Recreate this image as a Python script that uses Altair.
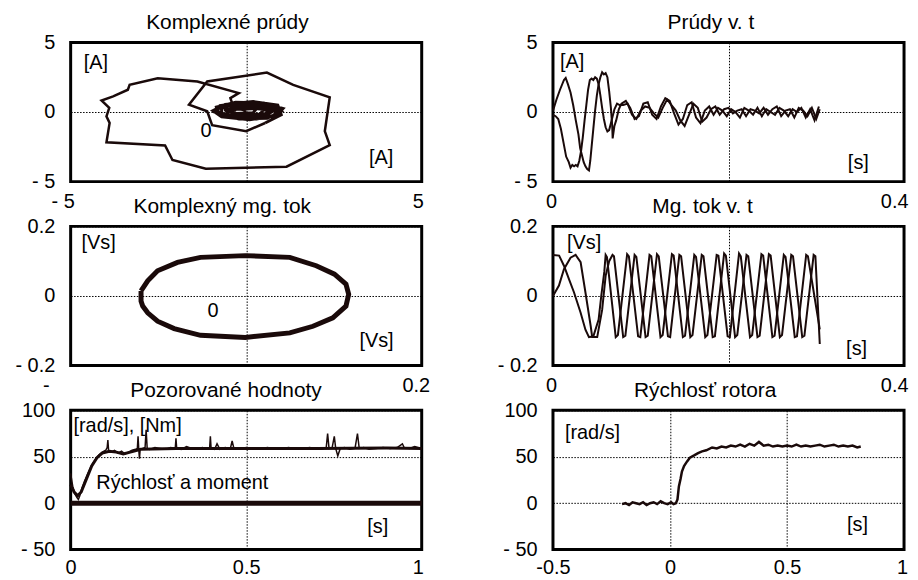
import altair as alt
import pandas as pd

INK = "#1a0a0a"
FONT = "Liberation Sans"

# ---------------- Panel 1: Komplexné prúdy (trajectory of current vector) -------------
CUR_OUTER = [(0.00, 0.00), (-0.40, 0.64), (-0.45, 1.00), (-0.21, 1.36), (-1.39, 2.19), (-2.52, 2.43),
             (-3.32, 1.95), (-3.37, 1.60), (-3.79, 1.12), (-4.12, 0.83), (-3.90, 0.30), (-3.98, -0.31),
             (-3.89, -0.79), (-3.98, -2.17), (-2.31, -2.40), (-2.10, -3.45), (-1.15, -4.07),
             (1.15, -3.93), (2.38, -2.38), (2.24, -1.38), (2.38, 1.05), (1.34, 1.95), (0.59, 2.83),
             (-1.11, 2.19), (-1.63, 0.52), (-1.11, 0.05), (-0.97, -0.95), (0.00, -1.38), (0.54, -0.79)]
CUR_BLOB = [(0.54, -0.79), (1.00, -0.20), (0.90, 0.50), (0.20, 0.75), (-0.60, 0.55), (-0.95, 0.10),
            (-0.70, -0.35), (0.10, -0.55), (0.85, -0.30), (1.05, 0.25), (0.50, 0.65), (-0.30, 0.70),
            (-0.85, 0.35), (-0.80, -0.15), (-0.20, -0.50), (0.60, -0.45), (1.00, 0.05), (0.70, 0.55),
            (-0.10, 0.68), (-0.75, 0.45), (-0.90, 0.00), (-0.45, -0.40), (0.30, -0.50), (0.95, -0.15),
            (0.85, 0.40), (0.10, 0.62), (-0.60, 0.50), (-0.85, 0.15), (-0.60, -0.30), (0.05, -0.45),
            (0.75, -0.30), (0.95, 0.15), (0.55, 0.55), (-0.20, 0.60), (-0.70, 0.30), (-0.70, -0.10),
            (-0.20, -0.35), (0.50, -0.30), (0.80, 0.10), (0.40, 0.45), (-0.30, 0.45), (-0.55, 0.10),
            (-0.20, -0.20), (0.40, -0.15), (0.50, 0.20), (0.00, 0.30), (-0.40, 0.15), (-0.30, -0.10),
            (0.20, -0.05), (0.30, 0.25), (-0.10, 0.20), (-0.60, 0.20), (-0.50, -0.20), (0.30, -0.30),
            (0.70, 0.00), (0.30, 0.35), (-0.40, 0.30)]

# ---------------- Panel 2: Prúdy v. t -------------
IA = [(0.000, 0.1), (0.004, 0.9), (0.008, 1.6), (0.0125, 2.3), (0.0145, 2.45), (0.017, 2.0), (0.020, 1.4),
      (0.023, 0.5), (0.026, -0.6), (0.029, -1.6), (0.031, -2.6), (0.033, -3.1), (0.035, -3.6),
      (0.037, -3.9), (0.039, -4.1), (0.041, -4.2), (0.0425, -3.5), (0.044, -2.5), (0.046, -1.2),
      (0.048, 0.1), (0.050, 1.2), (0.052, 2.0), (0.054, 2.5), (0.056, 2.85), (0.058, 2.7), (0.060, 2.8),
      (0.062, 2.5), (0.064, 1.5), (0.066, 0.3), (0.0675, -1.0), (0.068, -1.9), (0.070, -1.0),
      (0.072, -0.6), (0.075, 0.2), (0.078, 0.6),
      (0.083, 0.8), (0.088, 0.3), (0.093, -0.5), (0.098, -0.3), (0.103, 0.6), (0.108, 0.7), (0.113, -0.2),
      (0.118, -0.5), (0.123, 0.4), (0.128, 1.0), (0.133, 0.8), (0.138, -0.1), (0.143, -0.9), (0.148, -0.5),
      (0.153, 0.5), (0.158, 0.7), (0.163, -0.4), (0.168, -0.8), (0.173, 0.1), (0.178, 0.4), (0.183, -0.2),
      (0.188, 0.3), (0.193, 0.1), (0.198, -0.3), (0.203, 0.2), (0.208, 0.0), (0.213, -0.4), (0.218, 0.3),
      (0.223, 0.1), (0.228, -0.2), (0.233, 0.3), (0.238, -0.3), (0.243, 0.2), (0.248, 0.0), (0.253, -0.2),
      (0.258, 0.3), (0.263, 0.1), (0.268, -0.3), (0.273, 0.2), (0.278, 0.0), (0.283, 0.3), (0.288, -0.4),
      (0.293, 0.2), (0.298, -0.6), (0.303, 0.4)]
IB = [(0.000, -0.2), (0.003, -0.3), (0.006, -0.5), (0.009, -1.2), (0.012, -2.2), (0.015, -3.2),
      (0.018, -3.6), (0.020, -4.0), (0.022, -3.8), (0.024, -3.9), (0.026, -3.8), (0.028, -3.9),
      (0.030, -3.5), (0.032, -2.8), (0.034, -1.8), (0.036, -0.6), (0.038, 0.5), (0.040, 1.6),
      (0.042, 2.3), (0.044, 2.4), (0.046, 2.3), (0.048, 2.5), (0.050, 2.4), (0.052, 2.0), (0.054, 1.2),
      (0.056, 0.3), (0.058, -0.5), (0.060, -1.1), (0.062, -1.4), (0.064, -1.3), (0.066, -0.8),
      (0.068, -0.3), (0.070, 0.2), (0.073, 0.6), (0.076, 0.5),
      (0.080, 0.5), (0.085, 0.6), (0.090, -0.2), (0.095, -0.5), (0.100, 0.1), (0.105, 0.4), (0.110, 0.3),
      (0.115, -0.1), (0.120, -0.4), (0.125, 0.3), (0.130, 0.9), (0.135, 0.5), (0.140, 0.1), (0.145, -0.6),
      (0.150, -1.0), (0.155, -0.2), (0.160, 0.6), (0.165, 0.3), (0.170, -0.7), (0.175, -0.4), (0.180, 0.2),
      (0.185, 0.4), (0.190, -0.2), (0.195, 0.2), (0.200, 0.3), (0.205, -0.1), (0.210, 0.1), (0.215, 0.2),
      (0.220, -0.3), (0.225, 0.2), (0.230, 0.1), (0.235, -0.1), (0.240, 0.3), (0.245, -0.2), (0.250, 0.2),
      (0.255, 0.4), (0.260, -0.3), (0.265, 0.1), (0.270, 0.2), (0.275, -0.4), (0.280, 0.3), (0.285, 0.1),
      (0.290, -0.3), (0.295, 0.3), (0.300, -0.5), (0.304, 0.2)]

# ---------------- Panel 3: Komplexný mg. tok (flux trajectory) -------------
FLUX_PATH = [(-0.1198, 0.0145), (-0.1198, -0.0145), (-0.1179, -0.029), (-0.1122, -0.0483),
             (-0.1010, -0.0725), (-0.0821, -0.0937), (-0.0520, -0.1130), (-0.0011, -0.1190),
             (0.0497, -0.1060), (0.0761, -0.0870), (0.0987, -0.0628), (0.1137, -0.0290),
             (0.1168, 0.0048), (0.1137, 0.0338), (0.1006, 0.0628), (0.0798, 0.0870),
             (0.0497, 0.1110), (-0.0011, 0.1160), (-0.0520, 0.1110), (-0.0783, 0.0966),
             (-0.1010, 0.0725), (-0.1122, 0.0435), (-0.1198, 0.0145)]

# ---------------- Panel 4: Mg. tok v. t -------------
PSI_A = [(0.0, 0.118), (0.007, 0.116), (0.0125, 0.087), (0.018, 0.05), (0.024, 0.01), (0.0315, -0.048),
         (0.037, -0.097), (0.041, -0.118), (0.046, -0.116), (0.052, -0.068), (0.055, 0.0), (0.0585, 0.07),
         (0.0600, 0.118), (0.0615, 0.112), (0.0715, -0.118), (0.0740, -0.112), (0.0845, 0.120),
         (0.0865, 0.114), (0.0970, -0.116), (0.0995, -0.118), (0.1100, 0.118), (0.1120, 0.114),
         (0.1225, -0.118), (0.1250, -0.112), (0.1355, 0.120), (0.1375, 0.116), (0.1480, -0.118),
         (0.1505, -0.114), (0.1610, 0.118), (0.1630, 0.112), (0.1735, -0.118), (0.1760, -0.112),
         (0.1865, 0.118), (0.1885, 0.116), (0.1990, -0.116), (0.2015, -0.118), (0.2120, 0.122),
         (0.2140, 0.114), (0.2245, -0.118), (0.2270, -0.112), (0.2375, 0.120), (0.2395, 0.116),
         (0.2500, -0.118), (0.2525, -0.114), (0.2630, 0.118), (0.2650, 0.112), (0.2755, -0.118),
         (0.2780, -0.116), (0.2885, 0.118), (0.2905, 0.114), (0.3040, -0.096)]
PSI_B = [(0.0, 0.0), (0.0068, 0.03), (0.0125, 0.077), (0.020, 0.11), (0.0258, 0.118), (0.0315, 0.097),
         (0.037, 0.01), (0.043, -0.087), (0.0447, -0.118), (0.0504, -0.118), (0.056, -0.04), (0.060, 0.058),
         (0.064, 0.10), (0.0678, 0.118), (0.0695, 0.114), (0.0800, -0.118), (0.0825, -0.114),
         (0.0930, 0.118), (0.0950, 0.112), (0.1055, -0.118), (0.1080, -0.114), (0.1185, 0.120),
         (0.1205, 0.114), (0.1310, -0.116), (0.1335, -0.118), (0.1440, 0.118), (0.1460, 0.114),
         (0.1565, -0.118), (0.1590, -0.112), (0.1695, 0.118), (0.1715, 0.114), (0.1820, -0.118),
         (0.1845, -0.116), (0.1950, 0.122), (0.1970, 0.116), (0.2075, -0.118), (0.2100, -0.112),
         (0.2205, 0.118), (0.2225, 0.114), (0.2330, -0.118), (0.2355, -0.114), (0.2460, 0.120),
         (0.2480, 0.116), (0.2585, -0.118), (0.2610, -0.112), (0.2715, 0.118), (0.2735, 0.114),
         (0.2840, -0.118), (0.2865, -0.114), (0.2970, 0.118), (0.2990, 0.114), (0.3040, -0.138)]

# ---------------- Panel 5: Pozorované hodnoty -------------
SPEED_OBS = [(0.000, 32), (0.006, 18), (0.012, 10), (0.018, 6), (0.022, 4), (0.026, 8), (0.032, 16),
             (0.040, 24), (0.050, 33), (0.060, 41), (0.070, 47), (0.080, 52), (0.090, 55), (0.100, 57),
             (0.104, 60), (0.106, 68), (0.108, 57), (0.115, 55), (0.125, 57), (0.135, 54), (0.145, 56),
             (0.155, 53), (0.165, 55), (0.175, 57), (0.185, 58), (0.190, 59), (0.192, 72), (0.194, 58),
             (0.196, 48), (0.198, 58), (0.205, 59), (0.212, 60), (0.215, 79), (0.218, 59), (0.225, 58),
             (0.240, 60), (0.255, 59), (0.270, 58), (0.285, 60), (0.298, 59), (0.300, 70), (0.302, 59),
             (0.315, 58), (0.330, 61), (0.345, 59), (0.360, 58), (0.375, 60), (0.390, 59), (0.396, 60),
             (0.398, 72), (0.400, 59), (0.410, 58), (0.417, 64), (0.425, 58), (0.440, 60), (0.455, 59),
             (0.460, 67), (0.465, 59), (0.480, 58), (0.500, 60), (0.520, 59), (0.540, 58), (0.560, 60),
             (0.580, 59), (0.600, 58), (0.620, 60), (0.640, 59), (0.660, 58), (0.680, 60), (0.700, 59),
             (0.715, 58), (0.728, 60), (0.732, 75), (0.736, 59), (0.745, 60), (0.751, 72), (0.755, 59),
             (0.761, 51), (0.768, 59), (0.780, 60), (0.795, 58), (0.810, 59), (0.817, 75), (0.822, 59),
             (0.835, 60), (0.850, 58), (0.870, 59), (0.890, 60), (0.910, 59), (0.930, 60), (0.945, 64),
             (0.950, 60), (0.965, 59), (0.980, 61), (1.000, 59)]
SPEED_EST = [(0.000, 20), (0.010, 12), (0.020, 8), (0.030, 12), (0.045, 26), (0.060, 40), (0.075, 49),
             (0.090, 54), (0.110, 56), (0.130, 55), (0.150, 53), (0.170, 55), (0.200, 58), (0.300, 59),
             (0.500, 59), (0.700, 59), (0.900, 59.5), (1.000, 59)]
TORQUE = [(0.0, 0.0), (0.25, 0.0), (0.5, 0.0), (0.75, 0.0), (1.0, 0.0)]

# ---------------- Panel 6: Rýchlosť rotora -------------
ROTOR = [(-0.205, -1), (-0.19, 0), (-0.175, -2), (-0.16, 1), (-0.145, 0), (-0.13, -1), (-0.115, 1),
         (-0.10, -2), (-0.085, 0), (-0.07, 1), (-0.055, -1), (-0.04, 2), (-0.025, 0), (-0.01, -1),
         (0.005, 1), (0.015, -1), (0.025, 0), (0.032, 4), (0.038, 18), (0.045, 26), (0.051, 34),
         (0.06, 40), (0.073, 45), (0.085, 49), (0.103, 51.5), (0.12, 54), (0.137, 55.8), (0.155, 57),
         (0.18, 60), (0.20, 59), (0.22, 61), (0.24, 60), (0.26, 62), (0.28, 61), (0.30, 63), (0.32, 61),
         (0.34, 64), (0.36, 62), (0.38, 66), (0.40, 62), (0.42, 63), (0.44, 61), (0.46, 62), (0.48, 61),
         (0.50, 62), (0.52, 61), (0.54, 63), (0.56, 61), (0.58, 62), (0.60, 61), (0.62, 62), (0.64, 63),
         (0.66, 61), (0.68, 62), (0.70, 63), (0.72, 61), (0.74, 62), (0.76, 61), (0.78, 62), (0.80, 60),
         (0.815, 61)]


def frame(**series):
    rows = []
    for name, pts in series.items():
        for i, (x, y) in enumerate(pts):
            rows.append({"s": name, "i": i, "x": x, "y": y})
    return pd.DataFrame(rows)


def lab(mapping):
    expr = "''"
    for v, t in mapping:
        expr = f"datum.value == {v} ? '{t}' : " + expr
    return expr


def cond(mapping, default):
    if not mapping:
        return default
    return {"condition": [{"test": f"datum.value == {v}", "value": val} for v, val in mapping],
            "value": default}


def panel(layers, texts, xdom, ydom, xticks, xlab, yticks, ylab, title, x_off=(), x_right=(), xpad=10):
    X = alt.X("x:Q", scale=alt.Scale(domain=xdom, nice=False, zero=False),
              axis=alt.Axis(values=xticks, labelExpr=lab(xlab), title=None, labelPadding=xpad,
                            labelOffset=cond(list(x_off), 0),
                            labelAlign=cond([(v, "right") for v in x_right], "center")))
    Y = alt.Y("y:Q", scale=alt.Scale(domain=ydom, nice=False, zero=False),
              axis=alt.Axis(values=yticks, labelExpr=lab(ylab), title=None))
    out = []
    for df, w in layers:
        out.append(alt.Chart(df).mark_line(color=INK, strokeWidth=w).encode(
            x=X, y=Y, order="i:Q", detail="s:N"))
    tdf = pd.DataFrame(texts, columns=["x", "y", "t"])
    out.append(alt.Chart(tdf).mark_text(align="left", baseline="middle", fontSize=20, font=FONT,
                                        color="black").encode(x=X, y=Y, text="t:N"))
    return alt.layer(*out).properties(
        width=353, height=140,
        title=alt.TitleParams(title, font=FONT, fontSize=21, fontWeight="normal", color="black",
                              anchor="middle", frame="bounds", baseline="alphabetic", offset=-18))


p1 = panel([(frame(a=CUR_OUTER), 2.5), (frame(b=CUR_BLOB), 3.0)],
           [(-4.63, 3.5, "[A]"), (3.5, -3.29, "[A]"), (-1.30, -1.36, "0")],
           [-5, 5], [-5, 5], [-5, 0, 5], [(-5, "- 5"), (5, "5")], [-5, 0, 5],
           [(-5, "- 5"), (0, "0"), (5, "5")], "Komplexné prúdy",
           x_off=[(-5, -8), (5, -4)])
p2 = panel([(frame(a=IA, b=IB), 2.0)],
           [(0.008, 3.57, "[A]"), (0.336, -3.64, "[s]")],
           [0, 0.4], [-5, 5], [0, 0.2, 0.4], [(0, "0"), (0.4, "0.4")], [-5, 0, 5],
           [(-5, "- 5"), (0, "0"), (5, "5")], "Prúdy v. t",
           x_off=[(0, -2), (0.4, 4)], x_right=[0.4])
p3 = panel([(frame(a=FLUX_PATH), 5.0)],
           [(-0.1876, 0.151, "[Vs]"), (-0.044, -0.043, "0"), (0.129, -0.130, "[Vs]")],
           [-0.2, 0.2], [-0.2, 0.2], [-0.2, 0, 0.2], [(-0.2, "-"), (0.2, "0.2")], [-0.2, 0, 0.2],
           [(-0.2, "- 0.2"), (0, "0"), (0.2, "0.2")], "Komplexný mg. tok",
           x_off=[(-0.2, -25), (0.2, -6)])
p4 = panel([(frame(a=PSI_A, b=PSI_B), 2.0)],
           [(0.016, 0.151, "[Vs]"), (0.334, -0.151, "[s]")],
           [0, 0.4], [-0.2, 0.2], [0, 0.2, 0.4], [(0, "0"), (0.4, "0.4")], [-0.2, 0, 0.2],
           [(-0.2, "- 0.2"), (0, "0"), (0.2, "0.2")], "Mg. tok v. t",
           x_off=[(0, -2), (0.4, 4)], x_right=[0.4])
p5 = panel([(frame(t=TORQUE), 5.0), (frame(e=SPEED_EST), 3.0), (frame(o=SPEED_OBS), 1.5)],
           [(0.008, 82.7, "[rad/s], [Nm]"), (0.073, 21.2, "Rýchlosť a moment"), (0.845, -26.2, "[s]")],
           [0, 1], [-50, 100], [0, 0.5, 1], [(0, "0"), (0.5, "0.5"), (1, "1")], [-50, 0, 50, 100],
           [(-50, "- 50"), (0, "0"), (50, "50"), (100, "100")], "Pozorované hodnoty",
           x_off=[(1, -4)], xpad=8)
p6 = panel([(frame(r=ROTOR), 2.5)],
           [(-0.449, 75.2, "[rad/s]"), (0.756, -24.0, "[s]")],
           [-0.5, 1], [-50, 100], [-0.5, 0, 0.5, 1], [(-0.5, "-0.5"), (0, "0"), (0.5, "0.5"), (1, "1")],
           [-50, 0, 50, 100], [(-50, "- 50"), (0, "0"), (50, "50"), (100, "100")], "Rýchlosť rotora",
           x_off=[(1, -2)], xpad=8)

chart = alt.concat(p1, p2, p3, p4, p5, p6, columns=2, spacing={"row": 45, "column": 132},
                   bounds="flush").properties(
    padding={"left": 5, "top": 1, "right": 0, "bottom": 0}, background="white"
).configure_view(stroke="black", strokeWidth=3).configure_axis(
    grid=True, gridColor="black", gridDash=[1.5, 1.5], gridWidth=1, gridOpacity=1,
    ticks=False, domain=False, labelFont=FONT, labelFontSize=20, labelColor="black",
    labelFlush=False, labelOverlap=False, labelBound=False
).configure_axisY(labelPadding=16)

chart.save("out.html", embed_options={"renderer": "svg", "actions": False})
